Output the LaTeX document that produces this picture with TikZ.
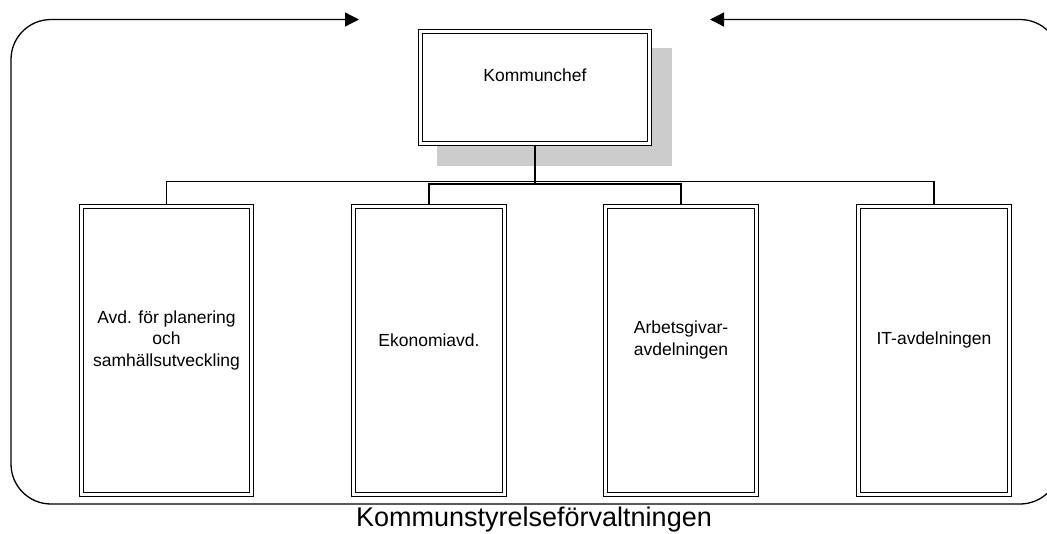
\documentclass[tikz,border=0pt]{standalone}
\usepackage{fontspec}
\setmainfont{Liberation Sans}
\usetikzlibrary{arrows.meta}

\begin{document}
\begin{tikzpicture}[x=1pt,y=-1pt,
  unit/.style={draw, double, line width=1.2pt, double distance=2.6pt, fill=white, outer sep=2.5pt, inner sep=0pt},
  unittext/.style={align=center, font=\fontsize{17.5}{21.5}\selectfont},
  wire/.style={line width=1.3pt},
  headtip/.tip={Triangle[length=14pt,width=14pt]}]
\useasboundingbox (0,0) rectangle (1047,533);
\fill[black!20] (437,48) rectangle (672,166);
\node[unit, minimum width=229, minimum height=112] (CHEF) at (535,87.5) {};
\node[unittext] (CHEFT) at (535,75) {Kommunchef};
\node[unit, minimum width=170, minimum height=288] (PLAN) at (166.5,350.5) {};
\node[unittext] (PLANT) at (166.5,340) {Avd. för planering\\och\\samhällsutveckling};
\node[unit, minimum width=151, minimum height=288] (EKON) at (429,350.5) {};
\node[unittext] (EKONT) at (429,340) {Ekonomiavd.};
\node[unit, minimum width=151, minimum height=288] (ARBG) at (681,350.5) {};
\node[unittext] (ARBGT) at (681,340) {Arbetsgivar-\\avdelningen};
\node[unit, minimum width=151, minimum height=288] (ITAVD) at (934,350.5) {};
\node[unittext] (ITAVDT) at (934,340) {IT-avdelningen};
\node[font=\fontsize{27}{30}\selectfont] (KSF) at (534,520) {Kommunstyrelseförvaltningen};
\coordinate (OUTERBUS) at (535,181.5);
\coordinate (INNERBUS) at (535,184);
\coordinate (LEFTIN) at (359,19.5);
\coordinate (RIGHTIN) at (710,19.5);
\draw [wire] (PLAN.north) |- (OUTERBUS) -| (ITAVD.north);
\draw [wire] (EKON.north) |- (INNERBUS) -| (ARBG.north);
\draw [wire] (CHEF.south) -- (INNERBUS);
\draw [wire, rounded corners=40pt, headtip-headtip] (LEFTIN) -- (11,19.5) -- (11,504) -- (1060,504) -- (1060,19.5) -- (RIGHTIN);
\end{tikzpicture}
\end{document}
